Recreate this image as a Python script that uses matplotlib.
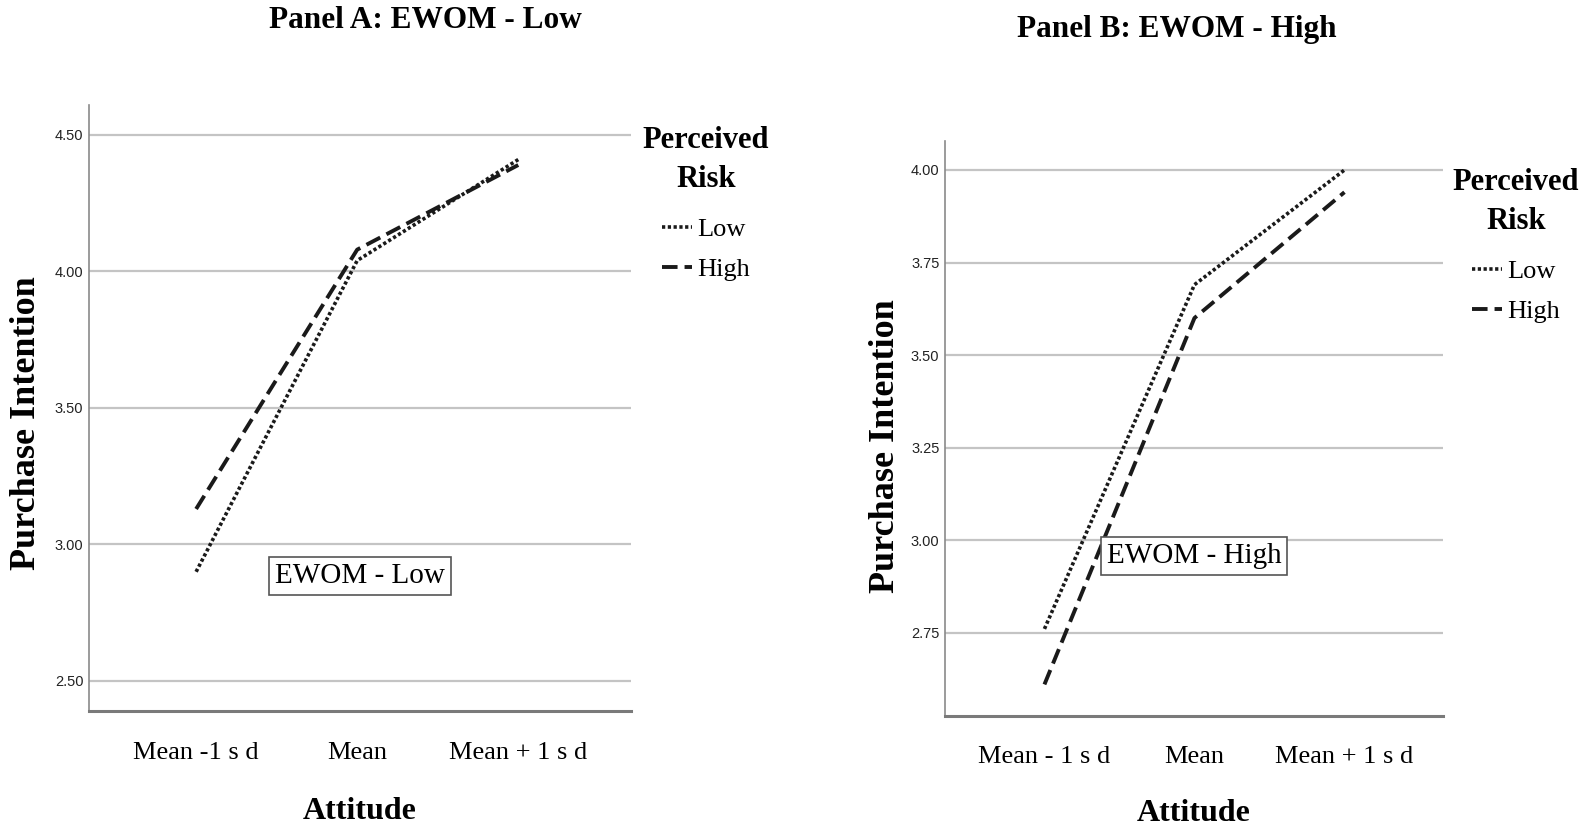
import matplotlib
matplotlib.use("Agg")
import matplotlib.pyplot as plt

# values
categories_a = ["Mean -1 s d", "Mean", "Mean + 1 s d"]
categories_b = ["Mean - 1 s d", "Mean", "Mean + 1 s d"]
a_low = [2.90, 4.04, 4.41]
a_high = [3.13, 4.08, 4.39]
b_low = [2.76, 3.69, 4.00]
b_high = [2.61, 3.60, 3.94]
a_yticks = [2.50, 3.00, 3.50, 4.00, 4.50]
b_yticks = [2.75, 3.00, 3.25, 3.50, 3.75, 4.00]

W, H = 1589, 830
SERIF = "Liberation Serif"
SANS = "Liberation Sans"
LINE_COLOR = "#1a1a1a"


def px(x, y):
    # pixel position -> figure fraction
    return x / W, 1 - y / H


def box(left, top, right, bottom):
    return [left / W, 1 - bottom / H, (right - left) / W, (bottom - top) / H]


def draw_panel(ax, cats, low, high, yticks, ylim, xlim, note, leg_xy):
    x = list(range(len(cats)))
    ax.plot(x, low, color=LINE_COLOR, lw=2.6, dashes=(0.9, 0.7), label="Low")
    ax.plot(x, high, color=LINE_COLOR, lw=2.8, dashes=(4, 1.8), label="High")

    ax.set_xlim(*xlim)
    ax.set_ylim(*ylim)
    ax.set_xticks(x)
    ax.set_xticklabels(cats, fontfamily=SERIF, fontsize=19)
    ax.set_yticks(yticks)
    ax.set_yticklabels(["%.2f" % v for v in yticks], fontfamily=SANS, fontsize=10.5, color="#222222")
    ax.tick_params(axis="x", length=0, pad=22)
    ax.tick_params(axis="y", length=0, pad=4)
    ax.grid(axis="y", color="#c4c4c4", lw=1.6)
    ax.set_axisbelow(True)

    for s in ["top", "right"]:
        ax.spines[s].set_visible(False)
    ax.spines["left"].set_color("#8a8a8a")
    ax.spines["left"].set_linewidth(1.2)
    ax.spines["bottom"].set_color("#7a7a7a")
    ax.spines["bottom"].set_linewidth(2.2)

    ax.text(0.5, note[1], note[0], transform=ax.transAxes, ha="center", va="center",
            fontfamily=SERIF, fontsize=21,
            bbox=dict(boxstyle="square,pad=0.2", fc="white", ec="#555555", lw=1.2))

    leg = ax.legend(loc="upper center", bbox_to_anchor=px(*leg_xy),
                    bbox_transform=ax.figure.transFigure, frameon=False,
                    title="Perceived\nRisk", handlelength=1.1, handletextpad=0.2,
                    labelspacing=0.62, borderpad=0,
                    prop={"family": SERIF, "size": 19},
                    title_fontproperties={"family": SERIF, "size": 22, "weight": "bold"})
    leg.get_title().set_linespacing(1.45)
    leg.get_title().set_multialignment("center")
    leg._legend_box.sep = 17


fig = plt.figure(figsize=(W / 100, H / 100), dpi=100)
fig.patch.set_facecolor("white")

ax1 = fig.add_axes(box(89, 105.5, 631, 711))
draw_panel(ax1, categories_a, a_low, a_high, a_yticks, (2.39, 4.608), (-0.665, 2.70),
           ("EWOM - Low", 0.223), (706, 113))

ax2 = fig.add_axes(box(945, 141.5, 1443, 715.5))
draw_panel(ax2, categories_b, b_low, b_high, b_yticks, (2.526, 4.077), (-0.663, 2.657),
           ("EWOM - High", 0.278), (1516, 155))

# titles and axis labels
fig.text(*px(425, 20), "Panel A: EWOM - Low", ha="center", va="center",
         fontfamily=SERIF, fontsize=22.5, fontweight="bold")
fig.text(*px(1177, 30), "Panel B: EWOM - High", ha="center", va="center",
         fontfamily=SERIF, fontsize=22.5, fontweight="bold")

fig.text(*px(27, 423), "Purchase Intention", rotation=90, ha="center", va="center",
         fontfamily=SERIF, fontsize=26, fontweight="bold")
fig.text(*px(885, 446), "Purchase Intention", rotation=90, ha="center", va="center",
         fontfamily=SERIF, fontsize=26, fontweight="bold")

fig.text(*px(360, 811), "Attitude", ha="center", va="center",
         fontfamily=SERIF, fontsize=23, fontweight="bold")
fig.text(*px(1194, 813), "Attitude", ha="center", va="center",
         fontfamily=SERIF, fontsize=23, fontweight="bold")

plt.savefig("out.png", dpi=100)
